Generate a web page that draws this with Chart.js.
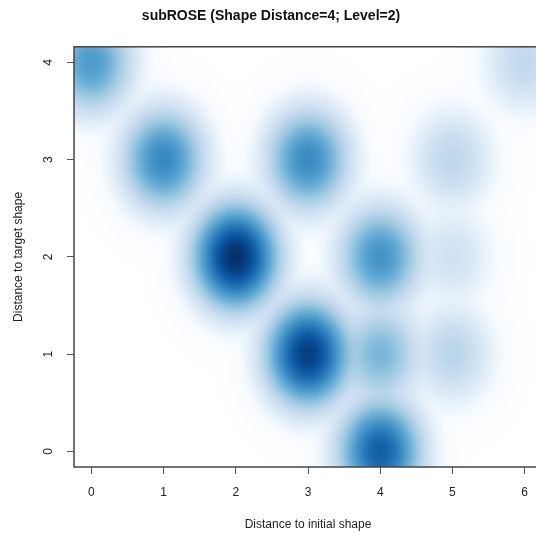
<!DOCTYPE html>
<html>
<head>
<meta charset="utf-8">
<script src="https://cdn.jsdelivr.net/npm/chart.js@4.4.1/dist/chart.umd.min.js"></script>
<style>
    html, body { margin: 0; padding: 0; background: #fff; overflow: hidden; }
    #wrap { width: 602px; height: 538px; }
</style>
</head>
<body>
<div id="wrap"><canvas id="roseChart" width="602" height="538"></canvas></div>
<script>
// distance to initial shape / distance to target shape / number of shapes in that cell
const initialDist = [0, 1, 2, 3, 3, 4, 4, 4, 5, 5, 5, 6];
const targetDist  = [4, 3, 2, 3, 1, 2, 1, 0, 3, 2, 1, 4];
const shapeCount  = [160, 240, 1000, 230, 810, 190, 75, 500, 17, 7, 19, 15];
const xTicks = [0, 1, 2, 3, 4, 5, 6];
const yTicks = [0, 1, 2, 3, 4];

const FONT = "'Liberation Sans', Arial, Helvetica, sans-serif";

// white + blues9, like colorRampPalette(c("white", blues9))
const ramp = ['#FFFFFF', '#F7FBFF', '#DEEBF7', '#C6DBEF', '#9ECAE1', '#6BAED6', '#4292C6', '#2171B5', '#08519C', '#08306B']
    .map(h => [parseInt(h.slice(1, 3), 16), parseInt(h.slice(3, 5), 16), parseInt(h.slice(5, 7), 16)]);
function rampColor(t) {
    const p = Math.min(Math.max(t, 0), 1) * (ramp.length - 1);
    const i = Math.min(Math.floor(p), ramp.length - 2);
    const f = p - i;
    return ramp[i].map((c, k) => c + (ramp[i + 1][k] - c) * f);
}

// kernel sd in data units (x, y)
const bandwidth = [0.23, 0.21];

/* smoothed density drawn under the (invisible) points */
const smoothScatter = {
    id: 'smoothScatter',
    beforeDatasetsDraw(chart) {
        const { ctx, chartArea: a, scales: { x, y } } = chart;
        const w = Math.round(a.right - a.left);
        const h = Math.round(a.bottom - a.top);
        const sx = Math.abs(x.getPixelForValue(bandwidth[0]) - x.getPixelForValue(0));
        const sy = Math.abs(y.getPixelForValue(bandwidth[1]) - y.getPixelForValue(0));
        const pts = chart.data.datasets[0].data.map(p => ({
            cx: x.getPixelForValue(p.x) - a.left,
            cy: y.getPixelForValue(p.y) - a.top,
            n: p.n
        }));
        const dens = new Float32Array(w * h);
        let max = 0;
        for (let j = 0; j < h; j++) {
            for (let i = 0; i < w; i++) {
                let d = 0;
                for (const p of pts) {
                    const dx = (i + 0.5 - p.cx) / sx, dy = (j + 0.5 - p.cy) / sy;
                    d += p.n * Math.exp(-0.5 * (dx * dx + dy * dy));
                }
                dens[j * w + i] = d;
                if (d > max) max = d;
            }
        }
        const off = document.createElement('canvas');
        off.width = w; off.height = h;
        const octx = off.getContext('2d');
        const img = octx.createImageData(w, h);
        for (let k = 0; k < w * h; k++) {
            const c = rampColor(Math.pow(dens[k] / max, 0.25));
            img.data[k * 4] = c[0];
            img.data[k * 4 + 1] = c[1];
            img.data[k * 4 + 2] = c[2];
            img.data[k * 4 + 3] = 255;
        }
        octx.putImageData(img, 0, 0);
        ctx.drawImage(off, a.left, a.top, w, h);
    },
    afterDraw(chart) {
        const { ctx, chartArea: a } = chart;
        ctx.save();
        ctx.strokeStyle = '#444';
        ctx.lineWidth = 1.5;
        ctx.strokeRect(a.left, a.top, a.right - a.left, a.bottom - a.top);
        ctx.restore();
    }
};

const points = initialDist.map((v, i) => ({ x: v, y: targetDist[i], n: shapeCount[i] }));

new Chart(document.getElementById('roseChart'), {
    type: 'scatter',
    data: {
        datasets: [{
            label: 'shapes',
            data: points,
            pointRadius: 0,
            pointHoverRadius: 0
        }]
    },
    options: {
        responsive: false,
        animation: false,
        layout: { padding: { left: 0, right: 60, top: 0, bottom: 0 } },
        plugins: {
            legend: { display: false },
            tooltip: { enabled: false },
            title: {
                display: true,
                text: 'subROSE (Shape Distance=4; Level=2)',
                color: '#111',
                font: { family: FONT, size: 14, weight: 'bold' },
                padding: { top: 8, bottom: 22 }
            }
        },
        scales: {
            x: {
                type: 'linear',
                min: -0.24,
                max: 6.24,
                afterBuildTicks: s => { s.ticks = xTicks.map(v => ({ value: v })); },
                afterFit: s => { s.height = 71; },
                grid: { drawOnChartArea: false, drawTicks: true, tickLength: 7, color: '#555' },
                border: { display: false },
                ticks: { color: '#222', font: { family: FONT, size: 12 }, padding: 11, maxRotation: 0 },
                title: {
                    display: true,
                    text: 'Distance to initial shape',
                    color: '#222',
                    font: { family: FONT, size: 12 },
                    padding: { top: 0, bottom: 6 }
                }
            },
            y: {
                type: 'linear',
                min: -0.16,
                max: 4.16,
                afterBuildTicks: s => { s.ticks = yTicks.map(v => ({ value: v })); },
                afterFit: s => { s.width = 74; },
                grid: { drawOnChartArea: false, drawTicks: true, tickLength: 7, color: '#555' },
                border: { display: false },
                ticks: {
                    color: '#222', font: { family: FONT, size: 12 },
                    minRotation: 90, maxRotation: 90, crossAlign: 'center', padding: 15
                },
                title: {
                    display: true,
                    text: 'Distance to target shape',
                    color: '#222',
                    font: { family: FONT, size: 12 },
                    padding: { top: 11, bottom: 0 }
                }
            }
        }
    },
    plugins: [smoothScatter]
});
</script>
</body>
</html>
